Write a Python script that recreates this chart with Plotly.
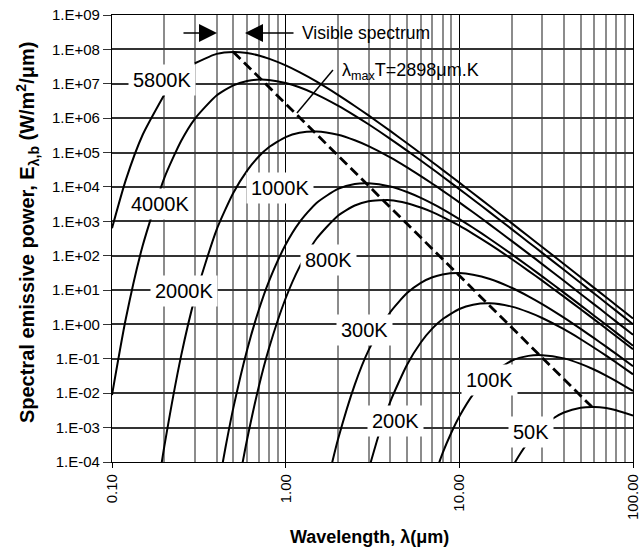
import plotly.graph_objects as go

# ---- data (wavelength in micrometres, E in W/m^2/um) ----
lam_5800 = [0.1, 0.12, 0.15, 0.2, 0.25, 0.3, 0.4, 0.5, 0.6, 0.7, 0.8, 1.0, 1.2, 1.5, 2, 2.5, 3, 4, 5, 6, 7, 8,
            10, 12, 15, 20, 25, 30, 40, 50, 60, 70, 80, 100]
E_5800 = [630, 1.58e4, 3.24e5, 4.8e6, None, 3.95e7, 7.41e7, 8.45e7, 7.82e7, 6.63e7, 5.38e7, 3.42e7, 2.18e7,
          1.17e7, 4.76e6, 2.26e6, 1.2e6, 4.25e5, 1.86e5, 9.4e4, 5.24e4, 3.14e4, 1.33e4, 6.55e3, 2.74e3, 885,
          367, 179, 57.1, 23.5, 11.4, 6.18, 3.62, 1.49]

lam_4000 = [0.1, 0.12, 0.15, 0.2, 0.25, 0.3, 0.4, 0.5, 0.6, 0.7, 0.8, 1.0, 1.2, 1.5, 2, 2.5, 3, 4, 5, 6, 7, 8,
            10, 12, 15, 20, 25, 30, 40, 50, 60, 70, 80, 100]
E_4000 = [8.9e-3, 1.44, 190, 1.81e4, 2.16e5, 9.57e5, 4.55e6, 9.0e6, 1.2e7, 1.32e7, 1.29e7, 1.05e7, 7.89e6,
          4.93e6, 2.32e6, 1.19e6, 6.65e5, 2.51e5, 1.14e5, 5.86e4, 3.32e4, 2.01e4, 8.65e3, 4.3e3, 1.82e3, 594,
          247, 121, 38.9, 16.0, 7.79, 4.23, 2.48, 1.02]

lam_2000 = [0.19, 0.2, 0.25, 0.3, 0.4, 0.5, 0.6, 0.7, 0.8, 1.0, 1.2, 1.5, 2, 2.5, 3, 4, 5, 6, 7, 8,
            10, 12, 15, 20, 25, 30, 40, 50, 60, 70, 80, 100]
E_2000 = [5.4e-5, 2.8e-4, 0.122, 5.94, 565, 6.75e3, 2.99e4, 7.67e4, 1.42e5, 2.81e5, 3.75e5, 4.11e5, 3.3e5,
          2.28e5, 1.54e5, 7.25e4, 3.72e4, 2.07e4, 1.24e4, 7.84e3, 3.55e3, 1.83e3, 801, 270, 115, 56.9, 18.6,
          7.73, 3.78, 2.06, 1.21, 0.50]

lam_1000 = [0.42, 0.45, 0.5, 0.6, 0.7, 0.8, 1.0, 1.2, 1.5, 2, 2.5, 3, 4, 5, 6, 7, 8, 10, 12, 15, 20, 25, 30,
            40, 50, 60, 70, 80, 100]
E_1000 = [3.8e-5, 2.6e-4, 3.81e-3, 0.185, 2.64, 17.7, 211, 933, 3.37e3, 8.79e3, 1.22e4, 1.28e4, 1.03e4,
          7.13e3, 4.81e3, 3.27e3, 2.27e3, 1.16e3, 649, 306, 111, 49.2, 25.0, 8.45, 3.59, 1.77, 0.977, 0.579, 0.242]

lam_800 = [0.55, 0.6, 0.7, 0.8, 1.0, 1.2, 1.5, 2, 2.5, 3, 4, 5, 6, 7, 8, 10, 12, 15, 20, 25, 30, 40, 50, 60,
           70, 80, 100]
E_800 = [4.7e-5, 4.6e-4, 0.0155, 0.197, 5.78, 46.6, 306, 1.46e3, 2.88e3, 3.85e3, 4.12e3, 3.37e3, 2.52e3,
         1.85e3, 1.35e3, 743, 432, 213, 80.2, 36.3, 18.8, 6.44, 2.77, 1.38, 0.76, 0.452, 0.19]

lam_300 = [1.8, 2, 2.5, 3, 4, 5, 6, 7, 8, 10, 12, 15, 20, 25, 30, 40, 50, 60, 70, 80, 100]
E_300 = [5.3e-5, 4.5e-4, 0.0178, 0.176, 2.27, 8.17, 16.3, 23.6, 28.5, 31.2, 28.1, 21.0, 11.7, 6.59, 3.91,
         1.58, 0.743, 0.393, 0.226, 0.139, 0.0608]

lam_200 = [3, 3.5, 4, 5, 6, 7, 8, 10, 12, 15, 20, 25, 30, 40, 50, 60, 70, 80, 100]
E_200 = [5.9e-5, 8.4e-4, 5.65e-3, 0.0675, 0.299, 0.767, 1.42, 2.81, 3.75, 4.11, 3.30, 2.28, 1.54, 0.726,
         0.372, 0.207, 0.124, 0.0782, 0.0355]

lam_100 = [7, 8, 9, 10, 12, 15, 20, 25, 30, 40, 50, 60, 70, 80, 100]
E_100 = [2.6e-5, 1.77e-4, 7.2e-4, 2.11e-3, 9.3e-3, 0.0337, 0.0879, 0.122, 0.128, 0.103, 0.0713, 0.0481,
         0.0327, 0.0226, 0.0116]

lam_50 = [20, 22, 25, 30, 35, 40, 50, 60, 70, 80, 100]
E_50 = [6.6e-5, 1.5e-4, 3.84e-4, 1.05e-3, 1.9e-3, 2.75e-3, 3.8e-3, 4.0e-3, 3.7e-3, 3.2e-3, 2.23e-3]

# peak locus (lambda_max T = 2898 um.K)
wien_lam = [0.4997, 0.7245, 1.449, 2.898, 3.6225, 9.66, 14.49, 28.98, 57.96]
wien_E = [8.44e7, 1.318e7, 4.117e5, 1.287e4, 4216, 31.27, 4.117, 0.1287, 4.02e-3]

x_tick_vals = [0.1, 1, 10, 100]
x_tick_text = ["0.10", "1.00", "10.00", "100.00"]
x_minor_vals = [0.2, 0.3, 0.4, 0.5, 0.6, 0.7, 0.8, 0.9, 2, 3, 4, 5, 6, 7, 8, 9,
                20, 30, 40, 50, 60, 70, 80, 90]
y_tick_vals = [1e-4, 1e-3, 1e-2, 1e-1, 1e0, 1e1, 1e2, 1e3, 1e4, 1e5, 1e6, 1e7, 1e8, 1e9]
y_tick_text = ["1.E-04", "1.E-03", "1.E-02", "1.E-01", "1.E+00", "1.E+01", "1.E+02", "1.E+03",
               "1.E+04", "1.E+05", "1.E+06", "1.E+07", "1.E+08", "1.E+09"]

# label texts and their positions (paper coordinates)
curve_labels = ["5800K", "4000K", "2000K", "1000K", "800K", "300K", "200K", "100K", "50K"]
label_x = [0.096, 0.092, 0.138, 0.3215, 0.4165, 0.4856, 0.545, 0.7255, 0.804]
label_y = [0.855, 0.578, 0.383, 0.613, 0.452, 0.295, 0.0917, 0.1834, 0.067]

FONT = "Liberation Sans, Arial, Helvetica, sans-serif"

fig = go.Figure()
series = [(lam_5800, E_5800), (lam_4000, E_4000), (lam_2000, E_2000), (lam_1000, E_1000),
          (lam_800, E_800), (lam_300, E_300), (lam_200, E_200), (lam_100, E_100), (lam_50, E_50)]
for lam, E in series:
    fig.add_trace(go.Scatter(x=lam, y=E, mode="lines",
                             line=dict(color="black", width=2, shape="spline", smoothing=0.6),
                             connectgaps=False, hoverinfo="skip", showlegend=False))
fig.add_trace(go.Scatter(x=wien_lam, y=wien_E, mode="lines",
                         line=dict(color="black", width=2.8, dash="10px,5px"),
                         hoverinfo="skip", showlegend=False))

annotations = []
for t, lx, ly in zip(curve_labels, label_x, label_y):
    annotations.append(dict(text=t, x=lx, y=ly, xref="paper", yref="paper", showarrow=False,
                            font=dict(family=FONT, size=20, color="black"),
                            bgcolor="white", borderpad=4, xanchor="center", yanchor="middle"))

# visible spectrum arrows and text
annotations.append(dict(text="", x=0.2015, y=0.9597, xref="paper", yref="paper", showarrow=True,
                        ax=-35, ay=0, arrowhead=2, arrowsize=2.4, arrowwidth=1.5, arrowcolor="black"))
annotations.append(dict(text="", x=0.2553, y=0.9597, xref="paper", yref="paper", showarrow=True,
                        ax=50, ay=0, arrowhead=2, arrowsize=2.4, arrowwidth=1.5, arrowcolor="black"))
annotations.append(dict(text="Visible spectrum", x=0.361, y=0.9597, xref="paper", yref="paper",
                        showarrow=False, xanchor="left", yanchor="middle",
                        font=dict(family=FONT, size=17.5, color="black")))
# lambda_max label
annotations.append(dict(text="λ<sub>max</sub>T=2898μm.K", x=0.4376, y=0.8747, xref="paper", yref="paper",
                        showarrow=False, xanchor="left", yanchor="middle",
                        font=dict(family=FONT, size=18, color="black")))
# axis titles
annotations.append(dict(text="<b>Spectral emissive power, E<sub>λ,b</sub> (W/m<sup>2</sup>/μm)</b>",
                        x=-0.163, y=0.5145, xref="paper", yref="paper", showarrow=False,
                        textangle=-90, xanchor="center", yanchor="middle",
                        font=dict(family=FONT, size=20, color="black")))
annotations.append(dict(text="<b>Wavelength, λ(μm)</b>", x=0.495, y=-0.168, xref="paper", yref="paper",
                        showarrow=False, xanchor="center", yanchor="middle",
                        font=dict(family=FONT, size=18, color="black")))

shapes = [
    dict(type="rect", xref="paper", yref="paper", x0=0.355, x1=0.674, y0=0.919, y1=0.982,
         fillcolor="white", line=dict(width=0), layer="between"),
    dict(type="rect", xref="paper", yref="paper", x0=0.428, x1=0.760, y0=0.828, y1=0.919,
         fillcolor="white", line=dict(width=0), layer="between"),
    # pointer from the lambda_max label to the peak locus
    dict(type="line", xref="paper", yref="paper", x0=0.355, y0=0.7808, x1=0.4241, y1=0.8770,
         line=dict(color="black", width=1.5), layer="above"),
]

fig.update_layout(
    width=641, height=557,
    margin=dict(l=112, r=8, t=15, b=95, autoexpand=False),
    paper_bgcolor="white", plot_bgcolor="white",
    font=dict(family=FONT, size=15, color="black"),
    annotations=annotations, shapes=shapes,
    xaxis=dict(type="log", range=[-1, 2], tickmode="array", tickvals=x_tick_vals, ticktext=x_tick_text,
               tickangle=-90, ticks="outside", ticklen=5, tickcolor="black", automargin=False,
               ticklabeloverflow="allow",
               showgrid=True, gridcolor="black", gridwidth=1.3,
               minor=dict(tickmode="array", tickvals=x_minor_vals, showgrid=True, gridcolor="#8c8c8c",
                          gridwidth=2, ticks=""),
               showline=True, linecolor="black", linewidth=1.3, mirror=True, zeroline=False,
               tickfont=dict(size=15)),
    yaxis=dict(type="log", range=[-4, 9], tickmode="array", tickvals=y_tick_vals, ticktext=y_tick_text,
               ticks="outside", ticklen=8, tickcolor="#333333", automargin=False,
               ticklabeloverflow="allow",
               showgrid=True, gridcolor="#333333", gridwidth=1.5,
               showline=True, linecolor="black", linewidth=1.3, mirror=True, zeroline=False,
               tickfont=dict(size=15)),
)

fig.write_html("out.html", config={"displayModeBar": False},
               post_script="document.body.style.margin='0px';")
